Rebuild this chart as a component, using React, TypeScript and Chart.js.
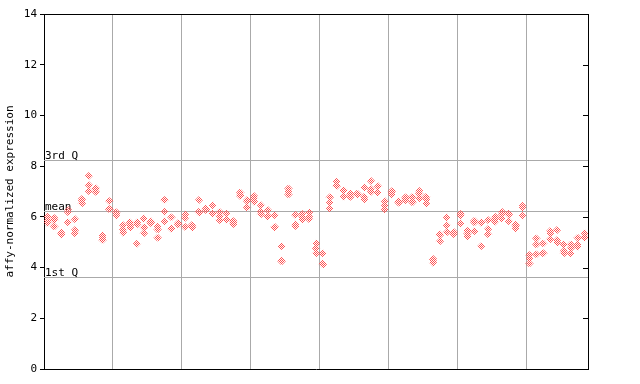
import React, { useEffect, useRef } from "react";
import { Chart, registerables } from "chart.js";

Chart.register(...registerables);

// replicate values per sample (79 samples, 8 groups)
const rep1: number[] = [
  6.00, 5.95, 5.38, 6.27, 5.91, 6.70, 7.61, 7.14, 5.28, 6.62,
  6.18, 5.67, 5.78, 5.78, 5.94, 5.83, 5.61, 6.66, 5.98, 5.76,
  6.10, 5.68, 6.66, 6.33, 6.46, 6.20, 6.13, 5.83, 6.96, 6.66,
  6.82, 6.46, 6.27, 6.07, 4.85, 7.12, 6.07, 6.11, 6.17, 4.95,
  4.56, 6.77, 7.38, 7.06, 6.92, 6.92, 7.16, 7.41, 7.21, 6.62,
  7.01, 6.61, 6.77, 6.79, 7.02, 6.79, 4.34, 5.31, 5.98, 5.41,
  6.11, 5.44, 5.85, 5.78, 5.87, 6.00, 6.20, 6.13, 5.69, 6.44,
  4.49, 5.15, 4.95, 5.44, 5.48, 4.91, 4.91, 5.18, 5.35,
];
const rep2: number[] = [
  5.88, 5.87, 5.33, 6.18, 5.48, 6.66, 7.26, 7.10, 5.18, 6.30,
  6.14, 5.50, 5.67, 5.71, 5.58, 5.78, 5.50, 6.20, 5.54, 5.72,
  5.96, 5.63, 6.20, 6.29, 6.13, 6.04, 5.90, 5.76, 6.86, 6.62,
  6.73, 6.20, 6.04, 5.61, 4.28, 7.01, 5.71, 6.00, 6.00, 4.76,
  4.16, 6.57, 7.25, 7.02, 6.88, 6.90, 6.79, 7.09, 6.96, 6.45,
  6.97, 6.58, 6.70, 6.60, 6.92, 6.69, 4.30, 5.28, 5.67, 5.36,
  6.04, 5.34, 5.78, 5.76, 5.52, 5.90, 6.11, 6.09, 5.65, 6.37,
  4.36, 4.91, 4.56, 5.35, 5.08, 4.65, 4.76, 4.91, 5.21,
];
const rep3: number[] = [
  5.75, 5.62, 5.30, 5.78, 5.35, 6.53, 7.02, 6.99, 5.08, 6.30,
  6.05, 5.37, 5.58, 4.94, 5.35, 5.76, 5.18, 5.83, 5.52, 5.70,
  5.60, 5.58, 6.17, 6.27, 6.13, 5.88, 5.88, 5.72, 6.82, 6.37,
  6.60, 6.10, 6.02, 5.59, 4.24, 6.88, 5.64, 5.90, 5.91, 4.56,
  4.12, 6.33, 7.21, 6.79, 6.79, 6.88, 6.69, 6.99, 6.96, 6.29,
  6.88, 6.56, 6.66, 6.57, 6.73, 6.53, 4.19, 5.04, 5.39, 5.32,
  5.74, 5.24, 5.44, 4.85, 5.31, 5.81, 5.94, 5.83, 5.54, 6.04,
  4.16, 4.52, 4.56, 5.12, 4.99, 4.56, 4.56, 4.82, 5.17,
];

// group boundaries (between samples)
const groupBoundaries: number[] = [9.5, 19.5, 29.5, 39.5, 49.5, 59.5, 69.5];

// reference lines
const refLabels: string[] = ["3rd Q", "mean", "1st Q"];
const refValues: number[] = [8.23, 6.22, 3.62];

const yTicks: number[] = [0, 2, 4, 6, 8, 10, 12, 14];

const RED = "rgb(255,80,80)";
const GRID = "#aaaaaa";
const FONT = "'DejaVu Sans Mono', monospace";

export default function App() {
  const ref = useRef<HTMLCanvasElement | null>(null);

  useEffect(() => {
    const canvas = ref.current!;
    const ctx = canvas.getContext("2d")!;
    const pc = document.createElement("canvas");
    pc.width = 2;
    pc.height = 2;
    const pctx = pc.getContext("2d")!;
    pctx.fillStyle = RED;
    pctx.fillRect(0, 0, 1, 1);
    pctx.fillRect(1, 1, 1, 1);
    const pattern = ctx.createPattern(pc, "repeat")!;

    const mk = (arr: number[]) => arr.map((v, i) => ({ x: i, y: v }));

    const overlay = {
      id: "overlay",
      beforeDatasetsDraw(chart: any) {
        const c = chart.ctx;
        const { left, right } = chart.chartArea;
        const y = chart.scales.y;
        c.save();
        c.strokeStyle = GRID;
        c.lineWidth = 1;
        c.font = `11px ${FONT}`;
        c.fillStyle = "#000";
        c.textBaseline = "bottom";
        c.textAlign = "left";
        refValues.forEach((v, k) => {
          const py = Math.round(y.getPixelForValue(v)) + 0.5;
          c.beginPath();
          c.moveTo(left, py);
          c.lineTo(right, py);
          c.stroke();
          c.fillText(refLabels[k], left + 1, py + 1);
        });
        c.restore();
      },
      afterDraw(chart: any) {
        const c = chart.ctx;
        const { left, right, top, bottom } = chart.chartArea;
        const y = chart.scales.y;
        c.save();
        c.strokeStyle = "#000";
        c.lineWidth = 1;
        c.beginPath();
        c.moveTo(left, top + 0.5);
        c.lineTo(right, top + 0.5);
        c.moveTo(right + 0.5, top);
        c.lineTo(right + 0.5, bottom);
        yTicks.forEach((t) => {
          const py = Math.round(y.getPixelForValue(t)) + 0.5;
          c.moveTo(right, py);
          c.lineTo(right - 5, py);
        });
        c.stroke();
        c.restore();
      },
    };

    const dsBase = {
      showLine: false,
      pointStyle: "rectRot",
      pointRadius: 3.5,
      pointBackgroundColor: pattern,
      pointBorderWidth: 1,
      pointBorderColor: pattern,
    };

    const chart = new Chart(canvas, {
      type: "scatter",
      data: {
        datasets: [
          { ...dsBase, data: mk(rep1) },
          { ...dsBase, data: mk(rep2) },
          { ...dsBase, data: mk(rep3) },
        ] as any,
      },
      options: {
        animation: false,
        responsive: false,
        events: [],
        layout: { padding: { left: 0, top: 14, right: 52, bottom: 15 } },
        plugins: { legend: { display: false }, tooltip: { enabled: false } },
        scales: {
          x: {
            type: "linear",
            min: -0.5,
            max: 78.5,
            afterBuildTicks: (s: any) => {
              s.ticks = groupBoundaries.map((v) => ({ value: v }));
            },
            afterFit: (s: any) => {
              s.height = 0;
            },
            ticks: { display: false },
            grid: { color: GRID, lineWidth: 1, drawTicks: false, drawOnChartArea: true },
            border: { display: true, color: "#000", width: 1 },
          },
          y: {
            type: "linear",
            min: 0,
            max: 14,
            afterBuildTicks: (s: any) => {
              s.ticks = yTicks.map((v) => ({ value: v }));
            },
            afterFit: (s: any) => {
              s.width = 44;
            },
            ticks: {
              color: "#000",
              font: { family: FONT, size: 11 },
              padding: 3,
            },
            grid: { drawOnChartArea: false, drawTicks: true, tickLength: 4, color: "#000" },
            border: { display: true, color: "#000", width: 1 },
            title: {
              display: true,
              text: "affy-normalized expression",
              color: "#000",
              font: { family: FONT, size: 11 },
              padding: { top: 4, bottom: 0 },
            },
          },
        },
      },
      plugins: [overlay],
    });
    return () => chart.destroy();
  }, []);

  return (
    <div style={{ position: "fixed", left: 0, top: 0, width: 640, height: 384, background: "#fff" }}>
      <canvas ref={ref} width={640} height={384} style={{ display: "block" }} />
    </div>
  );
}
